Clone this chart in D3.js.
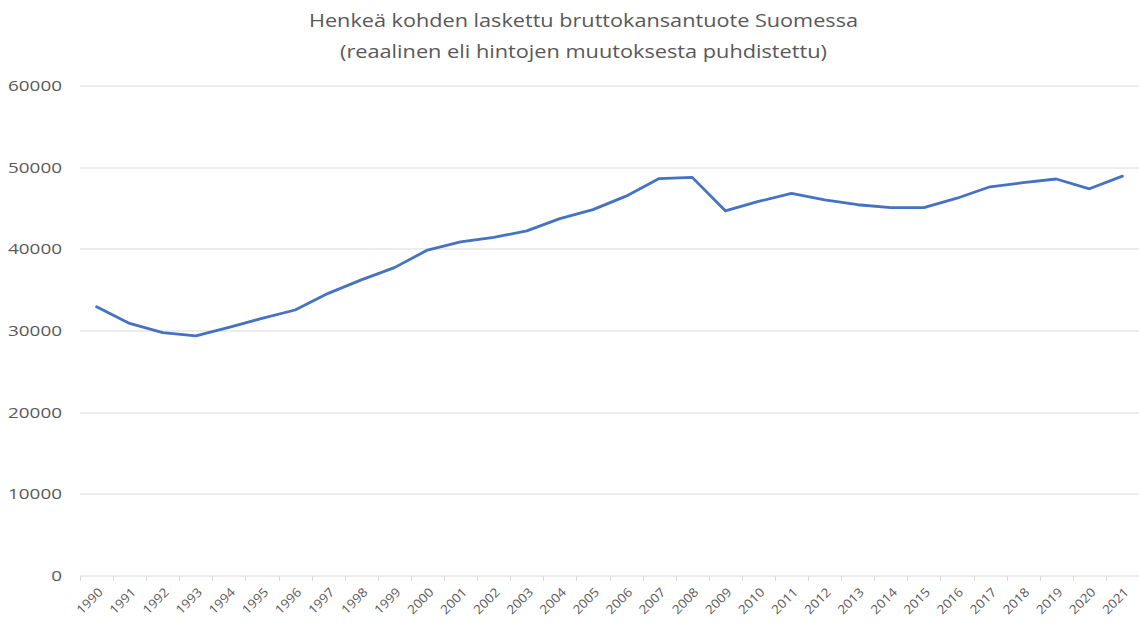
<!DOCTYPE html>
<html>
<head>
<meta charset="utf-8">
<script src="https://cdn.jsdelivr.net/npm/d3@7"></script>
<style>
  body { margin: 0; background: #fff; }
  text { font-family: "Open Sans", sans-serif; fill: #595959; }
  .grid line { stroke: #d9d9d9; stroke-width: 1; }
  .axis path, .axis line { stroke: #d9d9d9; }
</style>
</head>
<body>
<svg class="chart"></svg>
<script>

var years = ["1990","1991","1992","1993","1994","1995","1996","1997","1998","1999",
             "2000","2001","2002","2003","2004","2005","2006","2007","2008","2009",
             "2010","2011","2012","2013","2014","2015","2016","2017","2018","2019",
             "2020","2021"];

var gdp = [32900, 30870, 29730, 29330, 30390, 31490, 32510, 34550, 36200, 37700,
           39850, 40850, 41400, 42200, 43700, 44800, 46450, 48600, 48750, 44650,
           45800, 46800, 46000, 45400, 45050, 45050, 46200, 47600, 48100, 48550,
           47350, 48900];

var yTicks = [0, 10000, 20000, 30000, 40000, 50000, 60000];

var titleLines = ["Henkeä kohden laskettu bruttokansantuote Suomessa",
                  "(reaalinen eli hintojen muutoksesta puhdistettu)"];

var data = years.map(function(d, i) { return {year: d, value: gdp[i]}; });

var margin = {top: 85.5, right: 0, bottom: 48.5, left: 80},
    width = 1139 - margin.left - margin.right,
    height = 624 - margin.top - margin.bottom;

var x = d3.scaleBand().domain(years).range([0, width]),
    y = d3.scaleLinear().domain([0, 60000]).range([height, 0]);

var svg = d3.select(".chart")
    .attr("width", 1139)
    .attr("height", 624);

// title
svg.selectAll(".title")
    .data(titleLines)
  .enter().append("text")
    .attr("class", "title")
    .attr("x", 583.5)
    .attr("y", function(d, i) { return 27 + i * 31; })
    .attr("text-anchor", "middle")
    .attr("textLength", function(d, i) { return i == 0 ? 549 : 487; })
    .attr("lengthAdjust", "spacingAndGlyphs")
    .style("font-size", "19px")
    .text(function(d) { return d; });

var chart = svg.append("g")
    .attr("transform", "translate(" + margin.left + "," + margin.top + ")");

// gridlines
chart.append("g")
    .attr("class", "grid")
  .selectAll("line")
    .data(yTicks.slice(1))
  .enter().append("line")
    .attr("x1", 0)
    .attr("x2", width)
    .attr("y1", function(d) { return Math.round(y(d)) + 0.5; })
    .attr("y2", function(d) { return Math.round(y(d)) + 0.5; });

// y labels (wide digits like the original font)
chart.append("g")
  .selectAll("text")
    .data(yTicks)
  .enter().append("text")
    .attr("x", -18)
    .attr("y", function(d) { return y(d); })
    .attr("dy", "0.36em")
    .attr("text-anchor", "end")
    .attr("textLength", function(d) { return String(d).length * 10.8; })
    .attr("lengthAdjust", "spacingAndGlyphs")
    .style("font-size", "15px")
    .text(function(d) { return d; });

// x axis
var xAxis = chart.append("g")
    .attr("class", "axis")
    .attr("transform", "translate(0," + (Math.round(height) + 0.5) + ")");

xAxis.append("line")
    .attr("x1", 0)
    .attr("x2", width);

xAxis.selectAll(".tick")
    .data(years)
  .enter().append("line")
    .attr("class", "tick")
    .attr("x1", function(d) { return Math.round(x(d)) + 0.5; })
    .attr("x2", function(d) { return Math.round(x(d)) + 0.5; })
    .attr("y1", 0)
    .attr("y2", 5);

xAxis.selectAll(".lbl")
    .data(years)
  .enter().append("text")
    .attr("class", "lbl")
    .attr("transform", function(d) {
      return "translate(" + (x(d) + x.bandwidth() / 2 + 4) + ",14) rotate(-45)";
    })
    .attr("text-anchor", "end")
    .attr("dy", "0.35em")
    .attr("textLength", 31)
    .attr("lengthAdjust", "spacingAndGlyphs")
    .style("font-size", "12.5px")
    .text(function(d) { return d; });

// line
var line = d3.line()
    .x(function(d) { return x(d.year) + x.bandwidth() / 2; })
    .y(function(d) { return y(d.value); });

chart.append("path")
    .datum(data)
    .attr("fill", "none")
    .attr("stroke", "#4472c4")
    .attr("stroke-width", 2.8)
    .attr("stroke-linejoin", "round")
    .attr("stroke-linecap", "round")
    .attr("d", line);

</script>
</body>
</html>
